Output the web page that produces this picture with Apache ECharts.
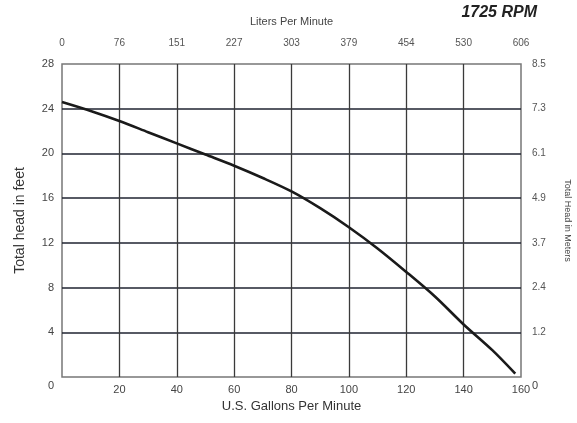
<!DOCTYPE html>
<html>
<head>
    <title>Pump curve 1725 RPM</title>
    <meta charset="utf-8" />
    <script src="https://cdn.jsdelivr.net/npm/echarts@6/dist/echarts.min.js"></script>
    <style type="text/css">
        html,
        body {
            width: 100%;
            height: 100%;
            margin: 0;
            background: #fff;
        }

        #main {
            width: 577px;
            height: 423px;
        }
    </style>
</head>

<body>
    <div id="main"></div>
    <script>
        // flow in US gallons per minute and the head it gives (feet)
        var gpm = [0, 10, 20, 30, 40, 50, 60, 70, 80, 90, 100, 110, 120, 130, 140, 150, 158];
        var headFeet = [24.6, 23.8, 22.9, 21.9, 20.9, 19.9, 18.9, 17.8, 16.6, 15.1, 13.4, 11.5, 9.4, 7.2, 4.7, 2.4, 0.3];
        // secondary tick labels
        var litersLabels = ['0', '76', '151', '227', '303', '379', '454', '530', '606'];
        var metersLabels = ['0', '1.2', '2.4', '3.7', '4.9', '6.1', '7.3', '8.5'];

        var chart = echarts.init(document.getElementById('main'));

        var points = gpm.map(function (g, i) { return [g, headFeet[i]]; });
        var font = 'Liberation Sans, Arial, sans-serif';
        var zeroRich = { z: { padding: [18, 0, 0, 0], color: '#444', fontSize: 11, fontFamily: font } };

        var option = {
            animation: false,
            backgroundColor: '#fff',
            textStyle: { fontFamily: font },
            grid: {
                left: 62,
                right: 56,
                top: 64,
                bottom: 46,
                outerBoundsMode: 'none',
                show: true,
                borderColor: '#777',
                borderWidth: 1.5
            },
            graphic: [{
                type: 'text',
                right: 40,
                top: 5,
                style: {
                    text: '1725 RPM',
                    font: 'italic bold 16px ' + font,
                    fill: '#222'
                }
            }],
            xAxis: [{
                type: 'value',
                min: 0,
                max: 160,
                interval: 20,
                name: 'U.S. Gallons Per Minute',
                nameLocation: 'middle',
                nameGap: 23,
                nameTextStyle: { fontSize: 13, color: '#333' },
                axisLine: { show: false },
                axisTick: { show: false },
                axisLabel: {
                    margin: 7,
                    fontSize: 11,
                    color: '#444',
                    formatter: function (v) { return v === 0 ? '' : v; }
                },
                splitLine: { show: true, showMinLine: false, showMaxLine: false, lineStyle: { color: '#3a3a3a', width: 1.3 } }
            }, {
                type: 'value',
                position: 'top',
                min: 0,
                max: 160,
                interval: 20,
                name: 'Liters Per Minute',
                nameLocation: 'middle',
                nameGap: 37,
                nameTextStyle: { fontSize: 11, color: '#444' },
                axisLine: { show: false },
                axisTick: { show: false },
                axisLabel: {
                    margin: 16,
                    fontSize: 10,
                    color: '#555',
                    formatter: function (v) { return litersLabels[Math.round(v / 20)]; }
                },
                splitLine: { show: false }
            }],
            yAxis: [{
                type: 'value',
                min: 0,
                max: 28,
                interval: 4,
                name: 'Total head in feet',
                nameLocation: 'middle',
                nameGap: 35,
                nameTextStyle: { fontSize: 14, color: '#333' },
                axisLine: { show: false },
                axisTick: { show: false },
                axisLabel: {
                    margin: 8,
                    fontSize: 11,
                    color: '#444',
                    formatter: function (v) { return v === 0 ? '{z|0}' : v; },
                    rich: zeroRich
                },
                splitLine: { show: true, showMinLine: false, showMaxLine: false, lineStyle: { color: '#1f2330', width: 1.6 } }
            }, {
                type: 'value',
                position: 'right',
                min: 0,
                max: 28,
                interval: 4,
                name: 'Total Head in Meters',
                nameLocation: 'middle',
                nameRotate: -90,
                nameGap: 42,
                nameTextStyle: { fontSize: 9, color: '#444' },
                axisLine: { show: false },
                axisTick: { show: false },
                axisLabel: {
                    margin: 11,
                    fontSize: 10,
                    color: '#555',
                    formatter: function (v) {
                        var s = metersLabels[Math.round(v / 4)];
                        return v === 0 ? '{z|' + s + '}' : s;
                    },
                    rich: zeroRich
                },
                splitLine: { show: false }
            }],
            series: [{
                type: 'line',
                xAxisIndex: 0,
                yAxisIndex: 0,
                smooth: 0.3,
                showSymbol: false,
                lineStyle: { color: '#1a1a1a', width: 2.6 },
                data: points
            }]
        };

        chart.setOption(option);
    </script>
</body>
</html>
